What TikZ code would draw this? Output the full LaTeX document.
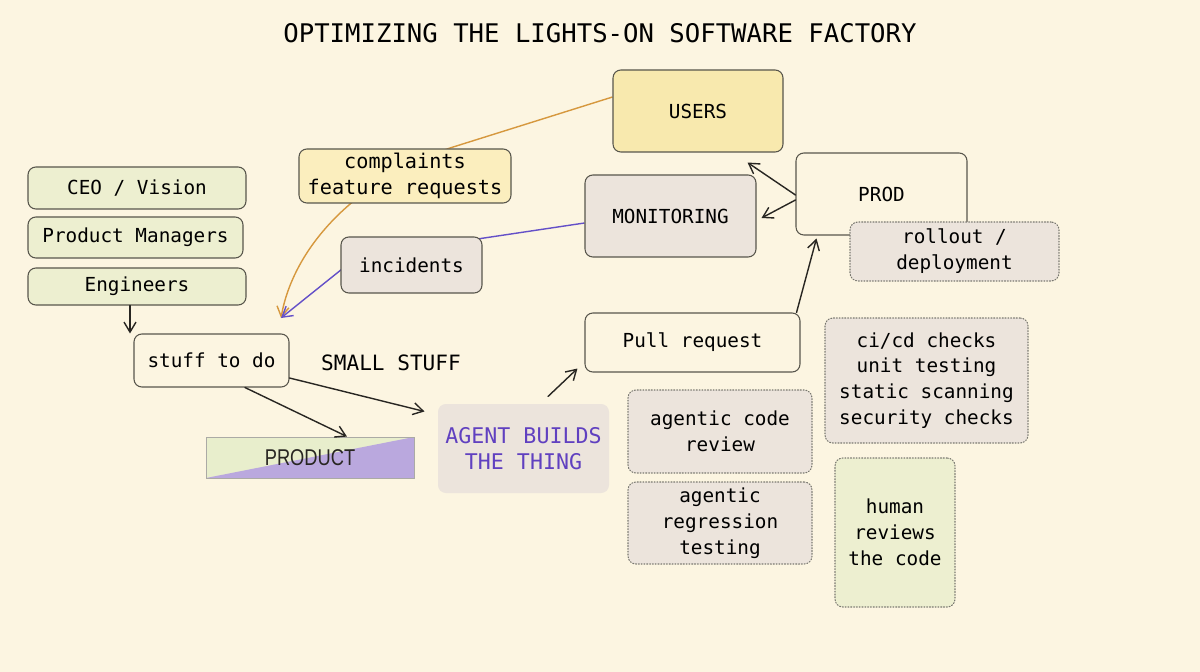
\documentclass[tikz,border=0pt]{standalone}
\usepackage{fontspec}
\setmonofont{DejaVu Sans Mono}
\newfontfamily\prodfont{Liberation Sans}[FakeStretch=0.8]
\usetikzlibrary{arrows.meta,backgrounds}

\definecolor{bgcream}{RGB}{252,245,225}
\definecolor{edgeink}{RGB}{88,86,76}
\definecolor{arrowink}{RGB}{40,38,34}
\definecolor{usersfill}{RGB}{248,233,174}
\definecolor{complfill}{RGB}{251,238,190}
\definecolor{greenfill}{RGB}{237,239,208}
\definecolor{grayfill}{RGB}{236,228,220}
\definecolor{prodgreen}{RGB}{232,238,204}
\definecolor{prodpurple}{RGB}{186,168,222}
\definecolor{agentink}{RGB}{96,64,192}
\definecolor{orangeline}{RGB}{214,152,62}
\definecolor{purpleline}{RGB}{100,80,200}

\begin{document}
\begin{tikzpicture}[x=0.02cm,y=-0.02cm,line cap=round,
	>={Straight Barb[length=2mm,width=2.4mm]},
	font=\ttfamily\fontsize{11}{14.7}\selectfont,
	sz/.style 2 args={minimum width=#1*0.02cm,minimum height=#2*0.02cm},
	box/.style={draw=edgeink,line width=0.6pt,rounded corners=4.5pt,
		align=center,inner sep=0pt},
	plainbox/.style={box},
	greenbox/.style={box,fill=greenfill},
	graybox/.style={box,fill=grayfill},
	dotbox/.style={box,fill=grayfill,draw=edgeink!80,densely dotted},
	flow/.style={->,line width=0.8pt,draw=arrowink}]
	
	% ===== 画布：1200 x 672 像素，1 像素 = 0.02cm =====
	\useasboundingbox (0,0) rectangle (1200,672);
	
	% ---- 标题 ----
	\node (title) at (600,33)
	{\fontsize{14.6}{17}\selectfont OPTIMIZING THE LIGHTS-ON SOFTWARE FACTORY};
	
	% ---- 用户与反馈 ----
	\node[box,fill=usersfill,sz={170}{82}] (users) at (698,111) {USERS};
	\node[box,fill=complfill,sz={212}{54},font=\ttfamily\fontsize{11.5}{14.7}\selectfont]
	(complaints) at (405,176) {complaints\\feature requests};
	
	% ---- 左侧：人 ----
	\node[greenbox,sz={218}{42}] (ceo) at (137,188) {CEO / Vision};
	\node[greenbox,sz={215}{41}] (pm) at (135.5,237.5) {Product Managers};
	\node[greenbox,sz={218}{37}] (eng) at (137,286.5) {Engineers};
	
	% ---- 线上：监控与生产 ----
	\node[graybox,sz={171}{82}] (monitoring) at (670.5,216) {MONITORING};
	\node[plainbox,sz={171}{82}] (prod) at (881.5,194) {PROD};
	\node[dotbox,sz={209}{59}] (rollout) at (954.5,251.5) {rollout /\\deployment};
	\node[graybox,sz={141}{56}] (incidents) at (411.5,265) {incidents};
	
	% ---- 待办与小需求 ----
	\node[plainbox,sz={155}{53}] (stuff) at (211.5,360.5) {stuff to do};
	\node[font=\ttfamily\fontsize{12}{14}\selectfont] (small) at (391,363) {SMALL STUFF};
	\coordinate (todoin) at (281,318);
	
	% ---- 产品（绿 / 紫 对角分割）----
	\node[sz={208}{41},draw=edgeink!50,line width=0.5pt,fill=prodgreen,
	path picture={\fill[prodpurple] (path picture bounding box.south west)
		-- (path picture bounding box.north east)
		-- (path picture bounding box.south east) -- cycle;},
	font=\prodfont\fontsize{13}{15}\selectfont,text=arrowink]
	(product) at (310,457.5) {PRODUCT};
	
	% ---- 代理构建 ----
	\node[box,draw=none,fill=grayfill,sz={171}{89},text=agentink,
	font=\ttfamily\fontsize{12.3}{14.7}\selectfont]
	(agent) at (523.5,448.5) {AGENT BUILDS\\THE THING};
	
	% ---- PR 与检查 ----
	\node[plainbox,sz={215}{59}] (pr) at (692.5,342.5) {Pull request};
	\node[dotbox,sz={203}{125}] (cicd) at (926.5,380.5)
	{ci/cd checks\\unit testing\\static scanning\\security checks};
	\node[dotbox,sz={184}{83}] (acr) at (720,431.5) {agentic code\\review};
	\node[dotbox,sz={184}{82}] (art) at (720,523) {agentic\\regression\\testing};
	\node[dotbox,fill=greenfill,sz={120}{149}] (human) at (895,532.5)
	{human\\reviews\\the code};
	
	% ---- 穿过标签背后的反馈线 ----
	\begin{scope}[on background layer]
		\fill[bgcream] (0,0) rectangle (1200,672);
		\draw[->,orangeline,line width=0.8pt]
		([yshift=0.28cm]users.west) -- (450,148)
		.. controls (345,185) and (292,255) .. (todoin);
		\draw[->,purpleline,line width=0.8pt]
		([yshift=-0.14cm]monitoring.west) -- (357,257) -- (todoin);
	\end{scope}
	
	% ---- 流程箭头 ----
	\draw[flow] ([xshift=-0.14cm]eng.south) -- ([xshift=-0.14cm]eng.south |- stuff.north);
	\draw[flow] ([xshift=0.67cm]stuff.south) -- ([xshift=0.74cm]product.north);
	\draw[flow] ([yshift=-0.35cm]stuff.east) -- ([shift={(-0.26cm,-0.16cm)}]agent.north west);
	\draw[flow] ([shift={(0.49cm,0.14cm)}]agent.north) -- ([shift={(-0.14cm,0.08cm)}]pr.south west);
	\draw[flow] ([xshift=-0.08cm]pr.north east) -- ([shift={(0.42cm,-0.06cm)}]prod.south west);
	\draw[flow] ([yshift=-0.02cm]prod.west) -- ([shift={(-0.72cm,-0.2cm)}]users.south east);
	\draw[flow] ([yshift=-0.12cm]prod.west) -- ([shift={(0.1cm,-0.04cm)}]monitoring.east);
	
\end{tikzpicture}
\end{document}
